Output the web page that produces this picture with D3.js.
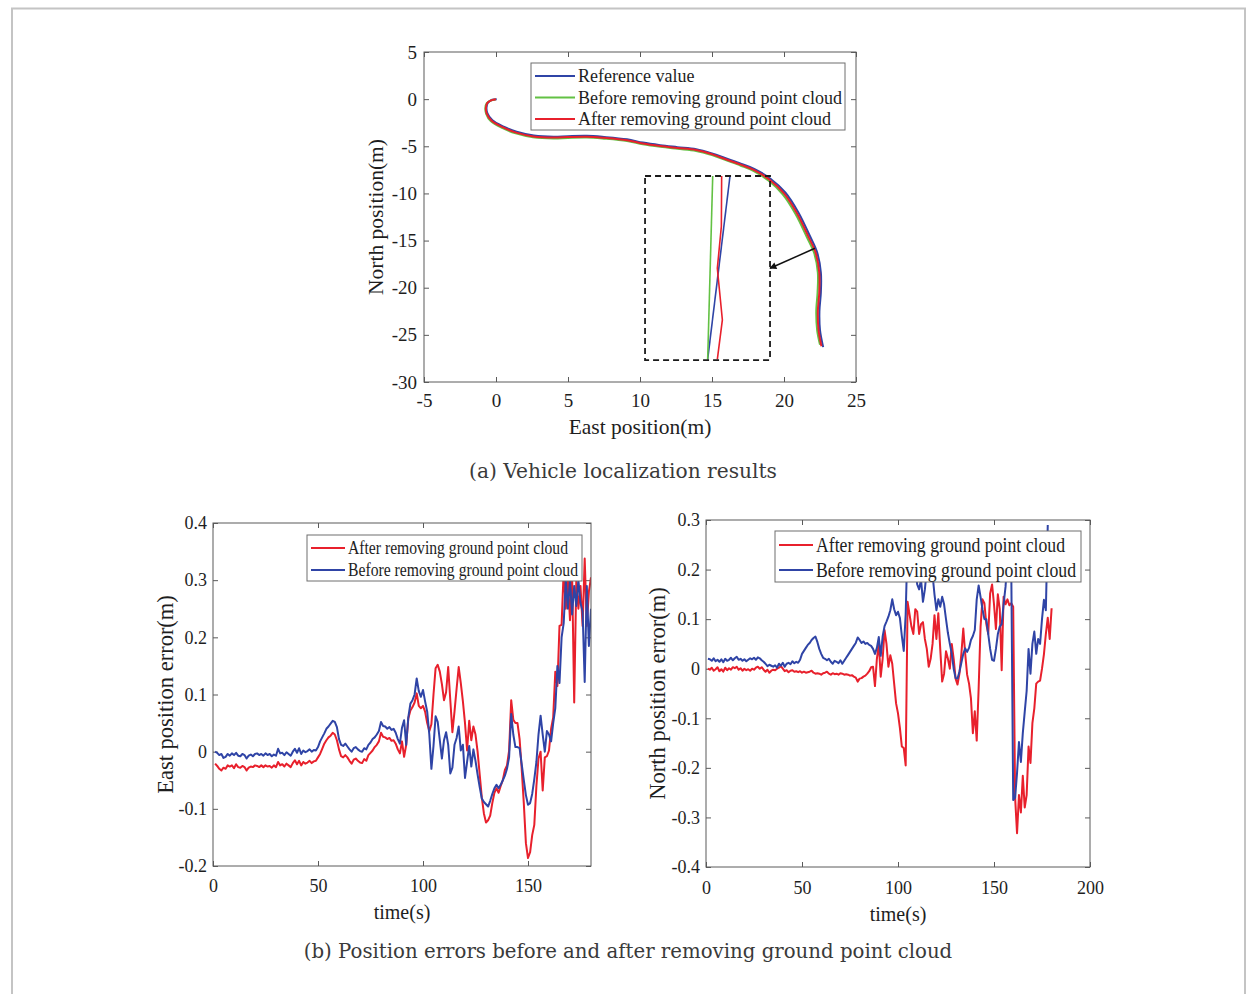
<!DOCTYPE html>
<html>
<head>
<meta charset="utf-8">
<script src="https://cdn.jsdelivr.net/npm/d3@7/dist/d3.min.js"></script>
<style>
  html, body { margin: 0; padding: 0; background: #fff; }
  svg { display: block; }
</style>
</head>
<body>
<div id="chart"></div>
<script>
// ---- data: (a) vehicle trajectory, [east, north] in metres
const trajReference = [[0.05,0.0],[-0.27,-0.06],[-0.56,-0.37],[-0.66,-0.9],[-0.6,-1.48],[-0.25,-2.25],[0.53,-2.92],[1.43,-3.46],[2.63,-3.86],[4.0,-3.99],[5.0,-3.93],[6.3,-3.89],[7.5,-4.01],[9.1,-4.26],[10.2,-4.61],[11.4,-4.88],[12.6,-5.09],[13.9,-5.31],[15.0,-5.76],[16.0,-6.3],[17.0,-6.84],[17.93,-7.39],[19.06,-8.44],[20.09,-9.9],[21.0,-12.02],[21.8,-14.52],[22.3,-16.25],[22.56,-18.4],[22.56,-20.5],[22.46,-22.5],[22.5,-24.5],[22.72,-26.3]];
const trajBefore = [[-0.04,-0.03],[-0.33,-0.13],[-0.64,-0.43],[-0.74,-0.92],[-0.69,-1.53],[-0.35,-2.36],[0.46,-3.08],[1.37,-3.63],[2.57,-4.04],[4.0,-4.17],[5.0,-4.11],[6.3,-4.07],[7.5,-4.19],[9.1,-4.44],[10.2,-4.79],[11.4,-5.06],[12.6,-5.27],[13.9,-5.49],[15.0,-5.94],[16.0,-6.5],[17.0,-7.06],[17.87,-7.61],[18.94,-8.66],[19.91,-10.1],[20.8,-12.18],[21.6,-14.68],[22.1,-16.35],[22.35,-18.4],[22.33,-20.5],[22.24,-22.5],[22.3,-24.5],[22.5,-26.05]];
const trajAfter = [[0.0,0.0],[-0.3,-0.1],[-0.6,-0.4],[-0.7,-0.9],[-0.65,-1.5],[-0.3,-2.3],[0.5,-3.0],[1.4,-3.55],[2.6,-3.95],[4.0,-4.08],[5.0,-4.02],[6.3,-3.98],[7.5,-4.1],[9.1,-4.35],[10.2,-4.7],[11.4,-4.97],[12.6,-5.18],[13.9,-5.4],[15.0,-5.85],[16.0,-6.4],[17.0,-6.95],[17.9,-7.5],[19.0,-8.55],[20.0,-10.0],[20.9,-12.1],[21.7,-14.6],[22.2,-16.3],[22.45,-18.4],[22.45,-20.5],[22.35,-22.5],[22.4,-24.5],[22.6,-26.2]];
// zoomed inset (drawn in the same axes)
const insetReference = [[16.25,-8.15],[14.7,-27.6]];
const insetBefore = [[15.05,-8.15],[14.7,-27.6]];
const insetAfter = [[15.67,-8.15],[15.65,-13.5],[15.37,-17.94],[15.72,-23.42],[15.37,-27.6]];
const insetBox = [[10.35,-8.15],[19.03,-27.67]];
const insetArrow = [[22.15,-15.82],[19.03,-17.94]];
const trajXTicks = [-5,0,5,10,15,20,25];
const trajYTicks = [5,0,-5,-10,-15,-20,-25,-30];

// ---- data: (b) position errors, one sample per second from t = 1 s
const tSeconds = d3.range(1, 181);
const eastAfter = [-0.021,-0.025,-0.030,-0.033,-0.028,-0.030,-0.024,-0.026,-0.024,-0.029,-0.022,-0.027,-0.028,-0.025,-0.027,-0.033,-0.028,-0.026,-0.027,-0.024,
  -0.025,-0.027,-0.024,-0.027,-0.024,-0.026,-0.025,-0.028,-0.024,-0.027,-0.018,-0.024,-0.022,-0.026,-0.021,-0.024,-0.027,-0.020,-0.015,-0.022,
  -0.016,-0.024,-0.018,-0.021,-0.019,-0.016,-0.020,-0.017,-0.016,-0.010,-0.004,0.005,0.014,0.020,0.025,0.028,0.033,0.030,0.020,0.004,
  -0.008,-0.010,-0.006,-0.010,-0.016,-0.021,-0.014,-0.012,-0.016,-0.019,-0.020,-0.013,-0.016,-0.006,-0.002,0.002,0.008,0.012,0.018,0.033,
  0.026,0.025,0.022,0.024,0.019,0.020,0.014,0.004,-0.003,0.018,-0.009,0.012,0.058,0.072,0.078,0.086,0.102,0.080,0.076,0.080,
  0.070,0.050,0.036,0.048,0.100,0.146,0.152,0.140,0.118,0.090,0.104,0.148,0.090,0.034,0.070,0.110,0.148,0.120,0.088,0.050,
  0.002,0.054,0.020,0.044,0.030,0.000,-0.040,-0.080,-0.108,-0.124,-0.120,-0.112,-0.090,-0.072,-0.064,-0.072,-0.060,-0.050,-0.032,-0.024,
  0.002,0.090,0.056,0.050,0.050,0.022,-0.030,-0.090,-0.160,-0.186,-0.176,-0.146,-0.128,-0.060,-0.012,0.000,-0.068,-0.010,-0.008,0.002,
  0.040,0.060,0.140,0.115,0.220,0.222,0.318,0.250,0.300,0.230,0.310,0.086,0.300,0.250,0.290,0.220,0.338,0.220,0.280,0.305];
const eastBefore = [0.000,-0.002,-0.006,-0.004,-0.011,-0.009,-0.004,-0.007,-0.003,-0.006,-0.002,-0.007,-0.008,-0.004,-0.006,-0.012,-0.007,-0.005,-0.008,-0.004,
  -0.003,-0.006,-0.004,-0.007,-0.003,-0.006,-0.004,-0.008,-0.005,-0.007,0.005,-0.003,-0.002,-0.006,-0.001,-0.004,-0.007,0.000,0.005,-0.002,
  0.006,-0.004,0.002,-0.001,0.001,0.004,0.000,0.003,0.002,0.008,0.018,0.025,0.032,0.040,0.044,0.049,0.054,0.052,0.043,0.022,
  0.012,0.010,0.014,0.009,0.004,0.000,0.006,0.008,0.004,0.001,0.000,0.006,0.004,0.012,0.016,0.022,0.025,0.030,0.036,0.052,
  0.045,0.044,0.040,0.043,0.038,0.040,0.033,0.022,0.014,0.042,0.055,0.012,0.060,0.084,0.090,0.100,0.128,0.106,0.096,0.108,
  0.088,0.070,0.030,-0.030,0.010,0.062,0.052,0.020,-0.012,0.020,0.034,0.012,-0.038,-0.028,0.012,0.024,0.044,0.002,0.012,-0.046,
  -0.018,0.010,-0.026,0.004,-0.016,-0.040,-0.062,-0.082,-0.088,-0.092,-0.096,-0.086,-0.074,-0.064,-0.058,-0.064,-0.058,-0.050,-0.042,-0.030,
  -0.010,0.066,0.030,0.008,0.008,0.006,-0.022,-0.050,-0.076,-0.093,-0.090,-0.074,-0.048,-0.018,0.030,0.063,0.030,0.000,0.036,0.030,
  0.018,0.050,0.076,0.150,0.120,0.200,0.225,0.300,0.250,0.300,0.240,0.290,0.255,0.300,0.260,0.245,0.122,0.290,0.185,0.250];
const northAfter = [0.000,-0.002,0.002,-0.004,-0.001,0.003,-0.005,-0.001,-0.006,0.002,-0.003,0.001,-0.002,0.003,0.001,0.004,-0.002,0.001,-0.004,0.000,
  -0.003,-0.001,-0.004,0.000,-0.002,0.002,0.004,0.000,0.003,-0.002,-0.006,-0.002,-0.008,-0.004,-0.002,-0.003,0.000,0.002,0.005,0.000,
  -0.005,-0.003,-0.007,-0.004,-0.003,-0.006,-0.005,-0.007,-0.005,-0.008,-0.006,-0.008,-0.007,-0.006,-0.004,-0.008,-0.010,-0.009,-0.010,-0.012,
  -0.009,-0.008,-0.006,-0.010,-0.012,-0.009,-0.011,-0.010,-0.012,-0.009,-0.010,-0.012,-0.011,-0.012,-0.014,-0.013,-0.016,-0.018,-0.026,-0.020,
  -0.019,-0.016,-0.014,-0.010,-0.005,0.003,0.004,-0.035,0.020,0.050,-0.016,0.020,0.078,0.050,0.004,0.027,0.010,-0.030,-0.070,-0.090,
  -0.120,-0.157,-0.160,-0.195,0.135,0.110,0.085,0.070,0.120,0.115,0.070,0.090,0.094,0.060,0.040,0.004,0.020,0.050,0.108,0.060,
  0.112,0.040,-0.026,-0.010,0.035,0.020,0.000,0.050,0.020,-0.020,-0.032,-0.010,0.030,0.081,0.030,-0.012,-0.030,-0.060,-0.130,-0.086,
  -0.145,-0.040,0.085,0.140,0.132,0.090,0.070,0.152,0.170,0.130,0.080,0.150,0.120,-0.003,0.145,0.130,0.140,0.128,0.132,0.125,
  -0.260,-0.332,-0.255,-0.290,-0.216,-0.280,-0.255,-0.157,-0.190,-0.110,-0.080,-0.030,-0.026,-0.024,0.000,0.029,0.070,0.103,0.060,0.122];
const northBefore = [0.020,0.019,0.016,0.021,0.015,0.018,0.014,0.019,0.013,0.020,0.016,0.018,0.022,0.017,0.021,0.024,0.018,0.020,0.016,0.019,
  0.015,0.018,0.021,0.019,0.022,0.018,0.023,0.021,0.017,0.014,0.010,0.005,0.008,0.006,0.004,0.007,0.002,0.010,0.006,0.012,
  0.004,0.010,0.012,0.009,0.015,0.011,0.014,0.012,0.018,0.030,0.036,0.042,0.048,0.052,0.058,0.062,0.065,0.054,0.040,0.030,
  0.022,0.020,0.017,0.020,0.014,0.010,0.016,0.014,0.011,0.017,0.010,0.016,0.022,0.028,0.034,0.040,0.046,0.052,0.063,0.058,
  0.052,0.055,0.050,0.052,0.048,0.046,0.040,0.030,0.042,0.064,0.026,0.065,0.086,0.095,0.105,0.118,0.140,0.120,0.108,0.115,
  0.102,0.066,0.036,0.110,0.260,0.230,0.270,0.250,0.200,0.170,0.160,0.180,0.135,0.160,0.200,0.250,0.220,0.190,0.150,0.118,
  0.140,0.125,0.145,0.130,0.100,0.072,0.050,0.030,0.000,-0.019,-0.020,-0.006,0.012,0.030,0.041,0.034,0.042,0.058,0.066,0.078,
  0.140,0.168,0.145,0.120,0.100,0.100,0.070,0.040,0.018,0.016,0.040,0.070,0.085,0.090,0.130,0.165,0.220,0.240,0.200,-0.265,
  -0.260,-0.210,-0.148,-0.188,-0.130,-0.087,-0.045,0.040,-0.010,0.050,0.075,0.030,0.060,0.050,0.100,0.139,0.118,0.290];
const eastXTicks = [0,50,100,150];
const eastYTicks = [-0.2,-0.1,0,0.1,0.2,0.3,0.4];
const northXTicks = [0,50,100,150,200];
const northYTicks = [-0.4,-0.3,-0.2,-0.1,0,0.1,0.2,0.3];

const legendTraj = ['Reference value', 'Before removing ground point cloud', 'After removing ground point cloud'];
const legendErr = ['After removing ground point cloud', 'Before removing ground point cloud'];

// ---- style
const BLUE = '#2f44a6', RED = '#e8202c', GREEN = '#63c144';
const AXIS = '#5a5a5a', TXT = '#1e1e1e';
const SERIF = '"Liberation Serif", "Times New Roman", serif';

const svg = d3.select('#chart').append('svg').attr('width', 1247).attr('height', 994);

// page frame
svg.append('path').attr('d', 'M12,1000 V8.5 H1245 V1000')
  .attr('fill', 'none').attr('stroke', '#c4c4c4').attr('stroke-width', 2);

let clipN = 0;
function panel(o) {
  const x = d3.scaleLinear().domain(o.xd).range([o.left, o.right]);
  const y = d3.scaleLinear().domain(o.yd).range([o.bottom, o.top]);
  const g = svg.append('g');
  const fmt = (d) => String(d);
  const style = (sel) => {
    sel.select('.domain').remove();
    sel.selectAll('line').attr('stroke', AXIS);
    sel.selectAll('text').attr('font-family', SERIF).attr('font-size', o.fs).attr('fill', TXT);
  };
  g.append('g').attr('transform', `translate(0,${o.bottom})`)
    .call(d3.axisBottom(x).tickValues(o.xt).tickFormat(fmt).tickSizeInner(-5).tickSizeOuter(0).tickPadding(o.px)).call(style);
  g.append('g').attr('transform', `translate(0,${o.top})`)
    .call(d3.axisTop(x).tickValues(o.xt).tickFormat('').tickSizeInner(-5).tickSizeOuter(0)).call(style);
  g.append('g').attr('transform', `translate(${o.left},0)`)
    .call(d3.axisLeft(y).tickValues(o.yt).tickFormat(fmt).tickSizeInner(-5).tickSizeOuter(0).tickPadding(o.py)).call(style);
  g.append('g').attr('transform', `translate(${o.right},0)`)
    .call(d3.axisRight(y).tickValues(o.yt).tickFormat('').tickSizeInner(-5).tickSizeOuter(0)).call(style);

  const id = 'clip' + (clipN++);
  svg.append('clipPath').attr('id', id).append('rect')
    .attr('x', o.left).attr('y', o.top).attr('width', o.right - o.left).attr('height', o.bottom - o.top);
  const plot = svg.append('g').attr('clip-path', `url(#${id})`);
  return { x, y, plot, o };
}

function drawBox(o) {
  svg.append('rect').attr('x', o.left).attr('y', o.top)
    .attr('width', o.right - o.left).attr('height', o.bottom - o.top)
    .attr('fill', 'none').attr('stroke', AXIS).attr('stroke-width', 1);
}

function axisLabels(o, xl, yl, xy, yx, fsx, fsy) {
  svg.append('text').attr('x', (o.left + o.right) / 2).attr('y', xy)
    .attr('text-anchor', 'middle').attr('dominant-baseline', 'central')
    .attr('font-family', SERIF).attr('font-size', fsx).attr('fill', TXT).text(xl);
  svg.append('text').attr('transform', `translate(${yx},${(o.top + o.bottom) / 2}) rotate(-90)`)
    .attr('text-anchor', 'middle').attr('dominant-baseline', 'central')
    .attr('font-family', SERIF).attr('font-size', fsy).attr('fill', TXT).text(yl);
}

// items placed from the box top: first row centre at box.y + pad, then every `step` px
function legend(box, items, fs, lineLen, pad, step, widths) {
  const g = svg.append('g');
  g.append('rect').attr('x', box.x).attr('y', box.y).attr('width', box.w).attr('height', box.h)
    .attr('fill', '#fff').attr('stroke', '#6e6e6e').attr('stroke-width', 1);
  items.forEach((it, i) => {
    const cy = box.y + pad + step * i;
    g.append('line').attr('x1', box.x + 4).attr('x2', box.x + 4 + lineLen).attr('y1', cy).attr('y2', cy)
      .attr('stroke', it.color).attr('stroke-width', 2);
    const t = g.append('text').attr('x', box.x + 7 + lineLen).attr('y', cy)
      .attr('dominant-baseline', 'central')
      .attr('font-family', SERIF).attr('font-size', fs).attr('fill', TXT).text(it.label);
    if (widths) t.attr('textLength', widths[i]).attr('lengthAdjust', 'spacingAndGlyphs');
  });
}

// ================= (a) trajectory
const A = panel({ left: 424, right: 856, top: 52, bottom: 382, xd: [-5, 25], yd: [-30, 5],
  xt: trajXTicks, yt: trajYTicks, fs: 19, px: 12, py: 7 });
const lineA = d3.line().x((d) => A.x(d[0])).y((d) => A.y(d[1])).curve(d3.curveCatmullRom.alpha(0.5));
const segA = d3.line().x((d) => A.x(d[0])).y((d) => A.y(d[1]));
[[trajReference, BLUE], [trajBefore, GREEN], [trajAfter, RED]].forEach(([d, c]) => {
  A.plot.append('path').datum(d).attr('d', lineA).attr('fill', 'none').attr('stroke', c).attr('stroke-width', 2);
});
[[insetReference, BLUE], [insetBefore, GREEN], [insetAfter, RED]].forEach(([d, c]) => {
  A.plot.append('path').datum(d).attr('d', segA).attr('fill', 'none').attr('stroke', c).attr('stroke-width', 1.6);
});
A.plot.append('rect')
  .attr('x', A.x(insetBox[0][0])).attr('y', A.y(insetBox[0][1]))
  .attr('width', A.x(insetBox[1][0]) - A.x(insetBox[0][0]))
  .attr('height', A.y(insetBox[1][1]) - A.y(insetBox[0][1]))
  .attr('fill', 'none').attr('stroke', '#1a1a1a').attr('stroke-width', 1.8).attr('stroke-dasharray', '6,4');
svg.append('defs').append('marker').attr('id', 'ah').attr('viewBox', '0 0 10 10')
  .attr('refX', 9).attr('refY', 5).attr('markerWidth', 9).attr('markerHeight', 7)
  .attr('orient', 'auto').attr('markerUnits', 'userSpaceOnUse')
  .append('path').attr('d', 'M0,0 L10,5 L0,10 z').attr('fill', '#111');
A.plot.append('path').datum(insetArrow).attr('d', segA).attr('stroke', '#111').attr('stroke-width', 1.5)
  .attr('marker-end', 'url(#ah)');
drawBox(A.o);
legend({ x: 531, y: 63, w: 314, h: 67 }, [
  { label: legendTraj[0], color: BLUE }, { label: legendTraj[1], color: GREEN }, { label: legendTraj[2], color: RED }
], 18, 40, 13, 21.5);
axisLabels(A.o, 'East position(m)', 'North position(m)', 427, 376, 21.5, 21.5);

// ================= (b) errors
const B1 = panel({ left: 213, right: 591, top: 523, bottom: 866, xd: [0, 180], yd: [-0.2, 0.4],
  xt: eastXTicks, yt: eastYTicks, fs: 18, px: 13, py: 6 });
const B2 = panel({ left: 706, right: 1090, top: 520, bottom: 867, xd: [0, 200], yd: [-0.4, 0.3],
  xt: northXTicks, yt: northYTicks, fs: 18, px: 14, py: 6 });

function series(P, vals, color) {
  const ln = d3.line().x((d, i) => P.x(tSeconds[i])).y((d) => P.y(d));
  P.plot.append('path').datum(vals).attr('d', ln).attr('fill', 'none')
    .attr('stroke', color).attr('stroke-width', 2).attr('stroke-linejoin', 'round');
}
series(B1, eastAfter, RED);
series(B1, eastBefore, BLUE);
series(B2, northAfter, RED);
series(B2, northBefore, BLUE);
drawBox(B1.o);
drawBox(B2.o);
legend({ x: 307, y: 535, w: 275, h: 46 }, [
  { label: legendErr[0], color: RED }, { label: legendErr[1], color: BLUE }
], 18, 34, 13, 22, [220, 230]);
legend({ x: 775, y: 531, w: 306, h: 51 }, [
  { label: legendErr[0], color: RED }, { label: legendErr[1], color: BLUE }
], 20, 34, 14, 25, [249, 260]);
axisLabels(B1.o, 'time(s)', 'East position error(m)', 912, 165, 20, 22.5);
axisLabels(B2.o, 'time(s)', 'North position error(m)', 914, 657, 20, 22.5);

// ================= captions
function caption(text, cx, cy, width) {
  const t = svg.append('text').attr('x', cx).attr('y', cy)
    .attr('text-anchor', 'middle').attr('dominant-baseline', 'central')
    .attr('font-family', '"DejaVu Serif", serif').attr('font-size', 20).attr('fill', '#3a3a3a').text(text);
  const w = t.node().getComputedTextLength();
  t.attr('font-size', 20 * width / w);
}
caption('(a) Vehicle localization results', 623, 471, 308);
caption('(b) Position errors before and after removing ground point cloud', 628, 951, 649);
</script>
</body>
</html>
